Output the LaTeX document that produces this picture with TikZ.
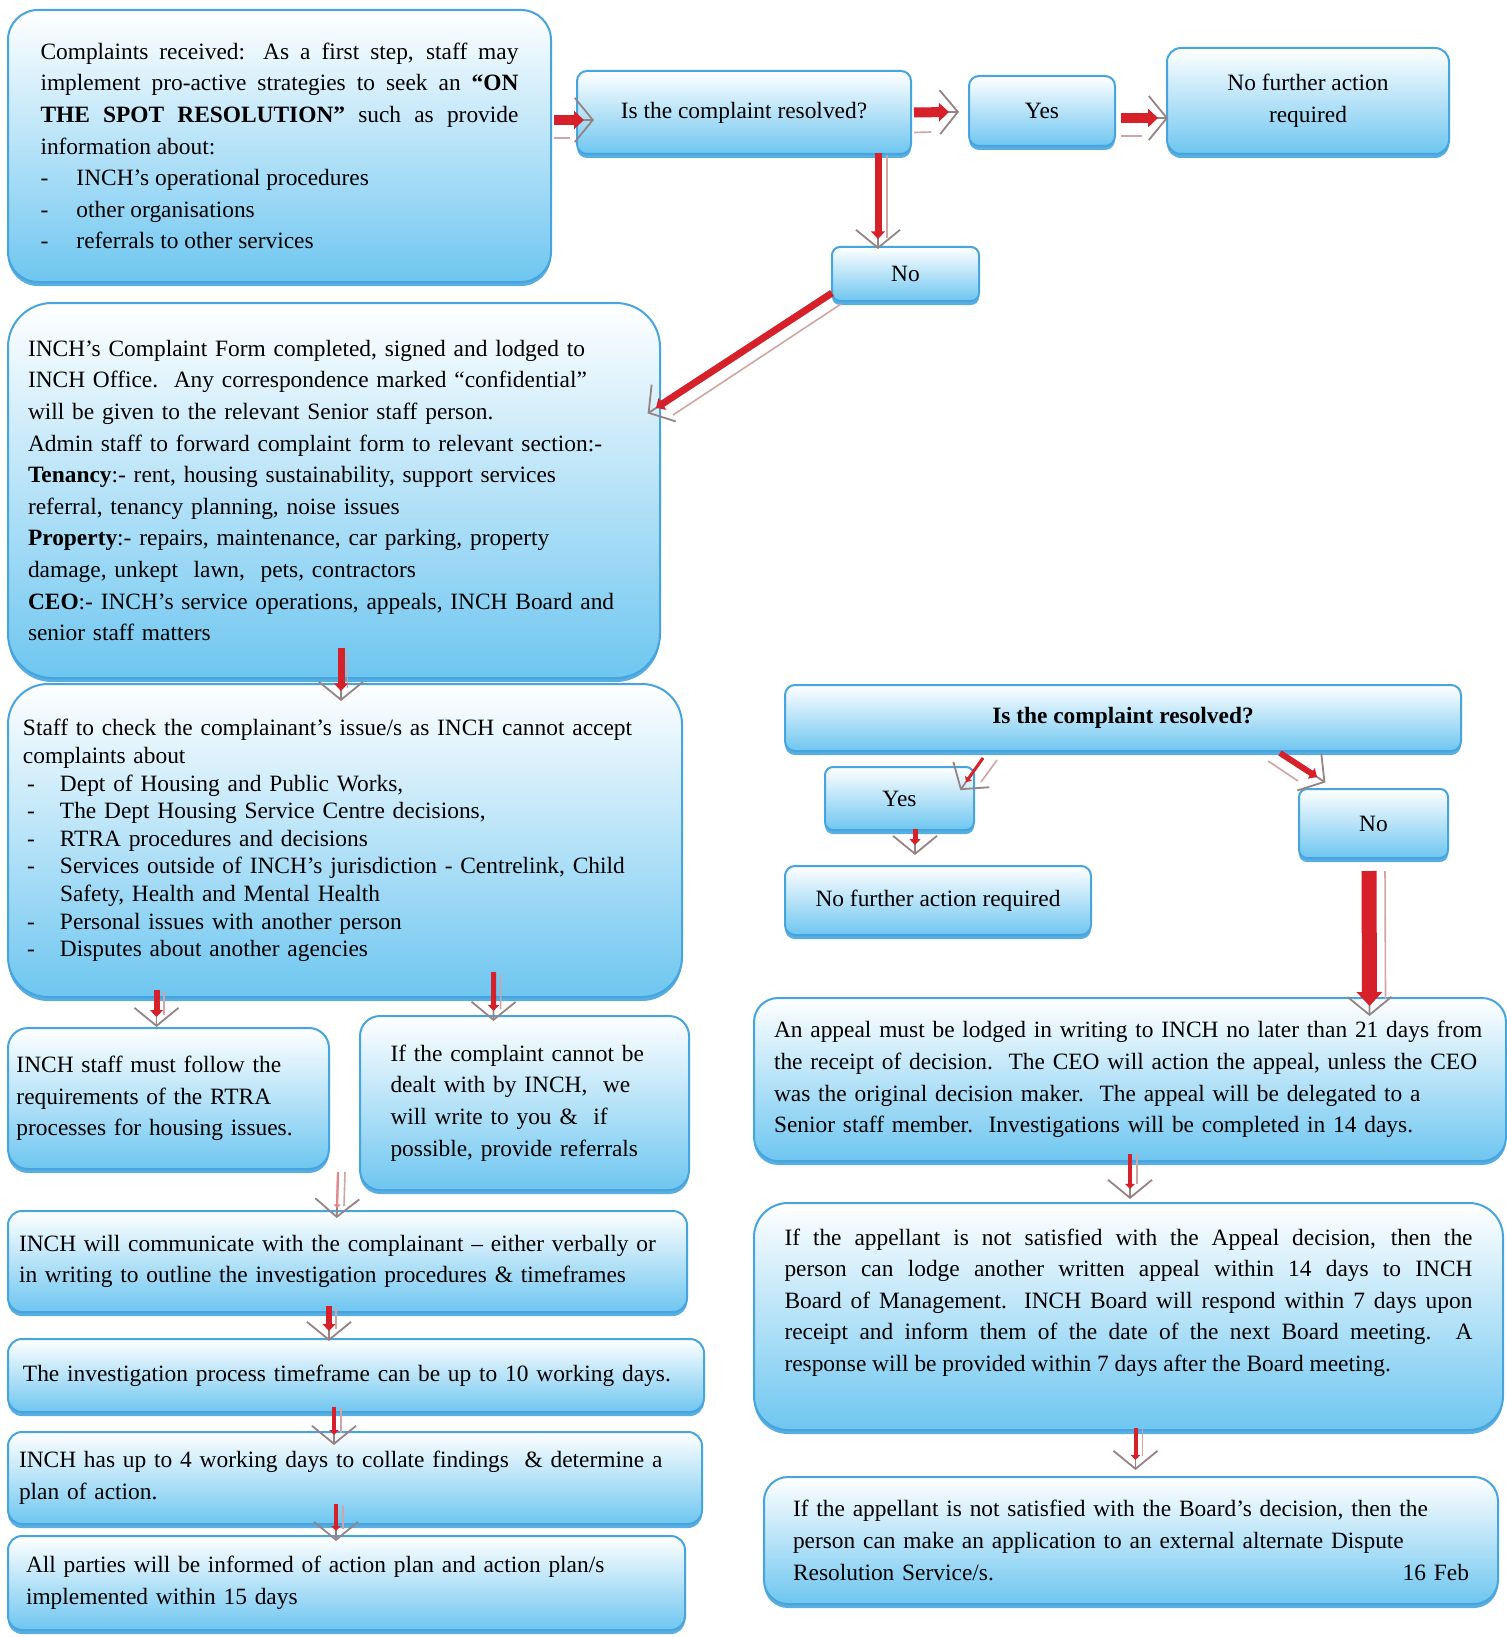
\documentclass[tikz,border=0pt]{standalone}
\usepackage{fontspec}
\setmainfont{Liberation Serif}
\usepackage{tikz}
\usetikzlibrary{positioning, arrows.meta, calc, shadows}
\definecolor{boxline}{RGB}{70,165,222}
\definecolor{boxblue}{RGB}{110,198,240}
\definecolor{arrowred}{RGB}{214,32,42}
\definecolor{chevron}{RGB}{150,132,132}
\definecolor{glint}{RGB}{208,165,165}

\begin{document}
\begin{tikzpicture}[
  x=0.5pt, y=-0.5pt,
  font=\fontsize{11.7}{15.8}\selectfont,
  panel/.style={draw=boxline, line width=1pt, rounded corners=#1, top color=white, bottom color=boxblue,
    drop shadow={shadow xshift=0pt, shadow yshift=-2pt, fill=boxline, opacity=0.9}, inner sep=0pt, align=left},
  panel/.default=5pt,
  flow/.style={draw=arrowred, line width=#1, -{Triangle[length=1pt 0.8, width=2pt 1.4]},
    preaction={draw=chevron, line width=0.9pt, shorten >=-5pt, -{Straight Barb[length=9pt, width=22pt]}}},
  glint/.style={draw=glint, line width=0.8pt},
]
  \fill[white] (0,0) rectangle (1506,1637);
  \useasboundingbox (0,0) rectangle (1506,1637);

  % left column
  \node[panel=15pt, align=justify, text width=239pt, minimum width=271.5pt, minimum height=136pt] (boxA) at (279.5,146)
    {Complaints received: As a first step, staff may\linebreak
     implement pro-active strategies to seek an \textbf{“ON}\linebreak
     \textbf{THE SPOT RESOLUTION”} such as provide\linebreak
     information about:\\
     \makebox[18pt][l]{-}INCH’s operational procedures\\
     \makebox[18pt][l]{-}other organisations\\
     \makebox[18pt][l]{-}referrals to other services};
  \node[panel, align=center, minimum width=167pt, minimum height=41.5pt] (q1) at (744,112.5) {Is the complaint resolved?};
  \node[panel, minimum width=73pt, minimum height=35pt] (yes1) at (1042,111) {Yes};
  \node[panel=7pt, align=center, minimum width=141pt, minimum height=53pt] (nfa1) at (1308,101) {No further action\\required};
  \node[panel=4pt, minimum width=73.5pt, minimum height=27pt] (no1) at (905.5,274) {No};

  \node[panel=22pt, text width=306pt, minimum width=326pt, minimum height=187.5pt] (boxB) at (334,490.5)
    {INCH’s Complaint Form completed, signed and lodged to\\
     INCH Office.\ \ Any correspondence marked “confidential”\\
     will be given to the relevant Senior staff person.\\
     Admin staff to forward complaint form to relevant section:-\\
     \textbf{Tenancy}:- rent, housing sustainability, support services\\
     referral, tenancy planning, noise issues\\
     \textbf{Property}:- repairs, maintenance, car parking, property\\
     damage, unkept\ \ lawn,\ \ pets, contractors\\
     \textbf{CEO}:- INCH’s service operations, appeals, INCH Board and\\
     senior staff matters};

  \node[panel=20pt, font=\fontsize{11.7}{13.8}\selectfont, text width=322pt, minimum width=337pt, minimum height=156.5pt] (boxC) at (345,840.5)
    {Staff to check the complainant’s issue/s as INCH cannot accept\\
     complaints about\\
     \hspace*{2pt}\makebox[16.5pt][l]{-}Dept of Housing and Public Works,\\
     \hspace*{2pt}\makebox[16.5pt][l]{-}The Dept Housing Service Centre decisions,\\
     \hspace*{2pt}\makebox[16.5pt][l]{-}RTRA procedures and decisions\\
     \hspace*{2pt}\makebox[16.5pt][l]{-}Services outside of INCH’s jurisdiction - Centrelink, Child\\
     \hspace*{18.5pt}Safety, Health and Mental Health\\
     \hspace*{2pt}\makebox[16.5pt][l]{-}Personal issues with another person\\
     \hspace*{2pt}\makebox[16.5pt][l]{-}Disputes about another agencies};

  \node[panel=10pt, text width=152pt, minimum width=160.5pt, minimum height=70.5pt] (boxD) at (168.5,1098.5)
    {INCH staff must follow the\\ requirements of the RTRA\\ processes for housing issues.};
  \node[panel=10pt, text width=134pt, minimum width=164.5pt, minimum height=87pt] (boxE) at (524.5,1103)
    {If the complaint cannot be\\ dealt with by INCH,\ \ we\\ will write to you \&\ \ if\\ possible, provide referrals};
  \node[panel=7pt, text width=328.5pt, minimum width=339.5pt, minimum height=50.5pt] (boxF) at (347.5,1261.5)
    {INCH will communicate with the complainant – either verbally or\\ in writing to outline the investigation procedures \& timeframes};
  \node[panel=7pt, text width=333pt, minimum width=348pt, minimum height=36.5pt] (boxG) at (356,1375.5)
    {The investigation process timeframe can be up to 10 working days.};
  \node[panel=7pt, text width=336pt, minimum width=347pt, minimum height=46pt] (boxH) at (355,1478)
    {INCH has up to 4 working days to collate findings\ \ \& determine a\\ plan of action.};
  \node[panel=7pt, text width=320.5pt, minimum width=338.5pt, minimum height=47pt] (boxI) at (346.5,1583)
    {All parties will be informed of action plan and action plan/s\\ implemented within 15 days};

  % right column
  \node[panel, minimum width=338pt, minimum height=33pt] (q2) at (1123,718) {\textbf{Is the complaint resolved?}};
  \node[panel=4pt, minimum width=74.5pt, minimum height=31.5pt] (yes2) at (899.5,798.5) {Yes};
  \node[panel, minimum width=153pt, minimum height=34.5pt] (nfa2) at (938,900.5) {No further action required};
  \node[panel=4pt, minimum width=74.5pt, minimum height=34.5pt] (no2) at (1373.5,823.5) {No};
  \node[panel=12pt, text width=356pt, minimum width=376pt, minimum height=81.5pt] (boxJ) at (1130,1079.5)
    {An appeal must be lodged in writing to INCH no later than 21 days from\\
     the receipt of decision.\ \ The CEO will action the appeal, unless the CEO\\
     was the original decision maker.\ \ The appeal will be delegated to a\\
     Senior staff member.\ \ Investigations will be completed in 14 days.};
  \node[panel=17pt, align=justify, text width=344pt, minimum width=374.5pt, minimum height=113.5pt] (boxK) at (1128.5,1316.5)
    {If the appellant is not satisfied with the Appeal decision, then the\linebreak
     person can lodge another written appeal within 14 days to INCH\linebreak
     Board of Management. INCH Board will respond within 7 days upon\linebreak
     receipt and inform them of the date of the next Board meeting. A\linebreak
     response will be provided within 7 days after the Board meeting.\par\kern14pt};
  \node[panel=12pt, text width=338pt, minimum width=367pt, minimum height=63.5pt] (boxL) at (1131,1540.5)
    {If the appellant is not satisfied with the Board’s decision, then the\\
     person can make an application to an external alternate Dispute\\
     Resolution Service/s.\hfill 16 Feb\hspace*{14pt}};

  % connectors
  \draw[glint] ($(boxA.east)+(2,-8)$) -- ($(q1.west)+(-6,25.5)$);
  \draw[flow=5pt] ($(boxA.east)+(2,-26)$) -- ($(q1.west)+(8,7.5)$);
  \draw[glint] ($(q1.east)+(2,20)$) -- ($(yes1.west)+(-37,21)$);
  \draw[flow=5pt] ($(q1.east)+(2,0)$) -- ($(yes1.west)+(-19,1)$);
  \draw[glint] ($(yes1.east)+(5,25)$) -- ($(nfa1.west)+(-24,35)$);
  \draw[flow=5pt] ($(yes1.east)+(5,7)$) -- ($(nfa1.west)+(-8,17)$);
  \draw[glint] ($(q1.south)+(143,0)$) -- ($(no1.north)+(-18.5,-8)$);
  \draw[flow=3.5pt] ($(q1.south)+(134,-2)$) -- ($(no1.north)+(-27.5,-7)$);
  \draw[glint] ($(no1.south west)+(10,2)$) -- ($(boxB.east)+(12,-75.5)$);
  \draw[flow=3.5pt] ($(no1.south west)+(1,-9)$) -- ($(boxB.east)+(-5,-82.5)$);
  \draw[glint] ($(boxB.south)+(13.5,-26)$) -- ($(boxC.north)+(2.5,5)$);
  \draw[flow=3.5pt] ($(boxB.south)+(7,-31)$) -- ($(boxC.north)+(-4,8)$);
  \draw[glint] ($(boxC.south)+(-181,-6)$) -- ($(boxD.north)+(-4.5,-12)$);
  \draw[flow=3pt] ($(boxC.south)+(-188.5,-8)$) -- ($(boxD.north)+(-12,-10)$);
  \draw[glint] ($(boxC.south)+(155.7,-24)$) -- ($(boxE.north)+(-24,-6)$);
  \draw[flow=2.5pt] ($(boxC.south)+(148.7,-26)$) -- ($(boxE.north)+(-31,-4)$);
  \draw[glint] ($(boxD.south east)+(15,2)$) -- ($(boxF.north)+(-3.5,-4)$);
  \draw[flow=1pt, draw=arrowred!55] ($(boxD.south east)+(8,2)$) -- ($(boxF.north)+(-10.5,-2)$);
  \draw[glint] ($(boxF.south)+(-11.5,-5)$) -- ($(boxG.north)+(-20,-9)$);
  \draw[flow=3pt] ($(boxF.south)+(-18.5,-7)$) -- ($(boxG.north)+(-27,-7)$);
  \draw[glint] ($(boxG.south)+(-15,-6)$) -- ($(boxH.north)+(-14,2)$);
  \draw[flow=1.8pt] ($(boxG.south)+(-22,-6)$) -- ($(boxH.north)+(-21,4)$);
  \draw[glint] ($(boxH.south)+(-12,-19)$) -- ($(boxI.north)+(-3.5,-6)$);
  \draw[flow=1.8pt] ($(boxH.south)+(-19,-21)$) -- ($(boxI.north)+(-10.5,-4)$);

  \draw[glint] ($(q2.south)+(-126,8)$) -- ($(yes2.north east)+(6,16)$);
  \draw[flow=1.5pt] ($(q2.south)+(-140,6)$) -- ($(yes2.north east)+(-9,16)$);
  \draw[glint] ($(q2.south)+(145,9)$) -- ($(no2.north)+(-75.5,-7)$);
  \draw[flow=3pt] ($(q2.south)+(157,1)$) -- ($(no2.north)+(-56.5,-11)$);
  \draw[flow=2.5pt] ($(yes2.south)+(15.5,-2)$) -- ($(nfa2.north)+(-23,-20)$);
  \draw[glint] ($(no2.south)+(11.5,12)$) -- ($(boxJ.north)+(255.5,2)$);
  \draw[flow=7.5pt] ($(no2.south)+(-4.5,12)$) -- ($(boxJ.north)+(239.5,9)$);
  \draw[glint] ($(boxJ.south)+(7,-8)$) -- ($(boxK.north)+(8.5,-18)$);
  \draw[flow=2pt] ($(boxJ.south)+(0,-8)$) -- ($(boxK.north)+(1.5,-13)$);
  \draw[glint] ($(boxK.south)+(14,-3)$) -- ($(boxL.north)+(11.5,-20)$);
  \draw[flow=2pt] ($(boxK.south)+(7,-3)$) -- ($(boxL.north)+(4.5,-16)$);
\end{tikzpicture}
\end{document}
